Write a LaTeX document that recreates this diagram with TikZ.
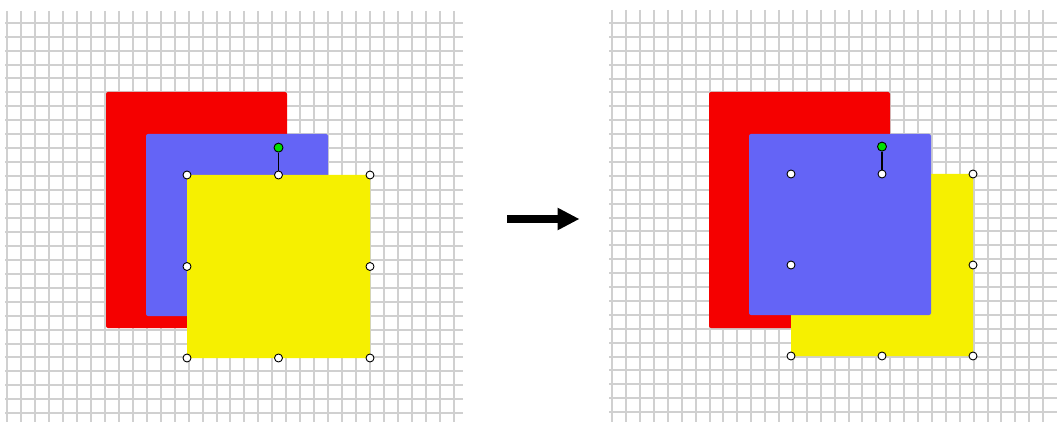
\documentclass[tikz,border=0pt]{standalone}
\usepackage{tikz}
\usetikzlibrary{arrows.meta, positioning}
\usepackage{xcolor}
\definecolor{shapered}{RGB}{245, 0, 0}
\definecolor{shapeblue}{RGB}{100, 100, 246}
\definecolor{shapeyellow}{RGB}{246, 240, 0}
\definecolor{gridgray}{RGB}{208, 208, 208}
\definecolor{rotgreen}{RGB}{0, 225, 0}
\tikzset{
  sheet/.style={inner sep=0pt, outer sep=0pt, rounded corners=2pt},
  handle/.style={circle, draw=black, fill=white, line width=0.9pt,
                 inner sep=0pt, minimum size=8pt},
  rothandle/.style={handle, fill=rotgreen, minimum size=9pt},
  gridline/.style={gridgray, line width=2pt}
}

\begin{document}
\begin{tikzpicture}[x=1pt, y=-1pt]
  \useasboundingbox (0,0) rectangle (1057,422);
  \fill[white] (0,0) rectangle (1057,422);
  %---- Before: yellow square selected, on top ------------------------------
  \begin{scope}
    \foreach \k in {0,...,32}
      \draw[gridline] ({round(7.3+13.95*\k)},11) -- ({round(7.3+13.95*\k)},422);
    \foreach \j in {0,...,28}
      \draw[gridline] (5,{round(22.7+13.95*\j)}) -- (463,{round(22.7+13.95*\j)});
    \node[sheet, fill=shapered, minimum width=181pt, minimum height=236pt]
      (redL) at (196.5,210) {};
    \node[sheet, fill=shapeblue, minimum width=182pt, minimum height=182pt]
      (blueL) at (237,225) {};
    \node[sheet, fill=shapeyellow, minimum width=183pt, minimum height=183pt]
      (yelL) at (278.5,266.5) {};
    \foreach \a/\n in {north west/nw, north/n, north east/ne, west/w,
                       east/e, south west/sw, south/s, south east/se}
      \node[handle] (hL\n) at (yelL.\a) {};
    \node[rothandle, above=18pt of hLn] (rotL) {};
    \draw[line width=1.2pt] (rotL) -- (hLn);
  \end{scope}
  %---- After: yellow square sent behind the blue one -----------------------
  \begin{scope}[xshift=603pt]
    \foreach \k in {0,...,31}
      \draw[gridline] ({round(9.3+13.9*\k)},10) -- ({round(9.3+13.9*\k)},422);
    \foreach \j in {0,...,28}
      \draw[gridline] (6,{round(23+13.9*\j)}) -- (454,{round(23+13.9*\j)});
    \node[sheet, fill=shapered, minimum width=181pt, minimum height=236pt]
      (redR) at (196.5,210) {};
    \node[sheet, fill=shapeyellow, minimum width=182pt, minimum height=182pt]
      (yelR) at (279,265) {};
    \node[sheet, fill=shapeblue, minimum width=182pt, minimum height=181pt]
      (blueR) at (237,224.5) {};
    \foreach \a/\n in {north west/nw, north/n, north east/ne, west/w,
                       east/e, south west/sw, south/s, south east/se}
      \node[handle] (hR\n) at (yelR.\a) {};
    \node[rothandle, above=18pt of hRn] (rotR) {};
    \draw[line width=1.2pt] (rotR) -- (hRn);
  \end{scope}
  %---- Arrow between the two states ----------------------------------------
  \coordinate (arrS) at (507,219);
  \coordinate (arrE) at (579.5,219);
  \draw[line width=7pt, -{Triangle[length=22pt, width=21pt]}] (arrS) -- (arrE);
\end{tikzpicture}
\end{document}
